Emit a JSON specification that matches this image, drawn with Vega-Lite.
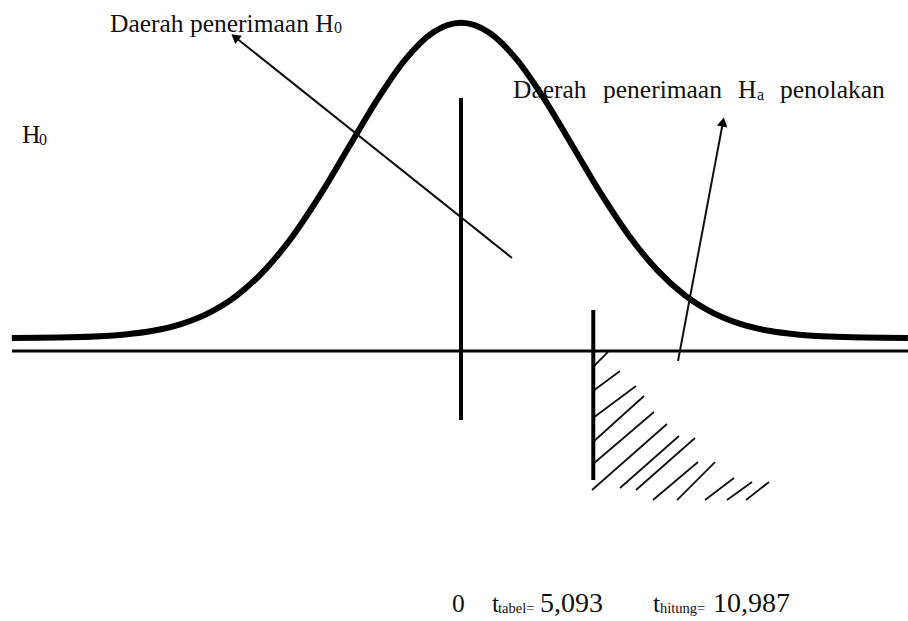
{
  "$schema": "https://vega.github.io/schema/vega-lite/v6.json",
  "width": 908,
  "height": 621,
  "autosize": {"type": "none"},
  "padding": 0,
  "background": "white",
  "config": {"view": {"stroke": null}, "text": {"font": "Liberation Serif", "baseline": "alphabetic", "align": "left", "color": "#111"}},
  "datasets": {
    "curve": [
      {"z": -4.01, "density": 0.00013},
      {"z": -3.5, "density": 0.000873},
      {"z": -3.0, "density": 0.004432},
      {"z": -2.75, "density": 0.009094},
      {"z": -2.5, "density": 0.017528},
      {"z": -2.25, "density": 0.03174},
      {"z": -2.0, "density": 0.053991},
      {"z": -1.75, "density": 0.086277},
      {"z": -1.5, "density": 0.129518},
      {"z": -1.25, "density": 0.182649},
      {"z": -1.0, "density": 0.241971},
      {"z": -0.75, "density": 0.301137},
      {"z": -0.5, "density": 0.352065},
      {"z": -0.25, "density": 0.386668},
      {"z": 0.0, "density": 0.398942},
      {"z": 0.25, "density": 0.386668},
      {"z": 0.5, "density": 0.352065},
      {"z": 0.75, "density": 0.301137},
      {"z": 1.0, "density": 0.241971},
      {"z": 1.25, "density": 0.182649},
      {"z": 1.5, "density": 0.129518},
      {"z": 1.75, "density": 0.086277},
      {"z": 2.0, "density": 0.053991},
      {"z": 2.25, "density": 0.03174},
      {"z": 2.5, "density": 0.017528},
      {"z": 2.75, "density": 0.009094},
      {"z": 3.0, "density": 0.004432},
      {"z": 3.5, "density": 0.000873},
      {"z": 3.99, "density": 0.00014}
    ],
    "baseline": [{"x1": -4.009, "x2": 3.991, "y": -0.01646}],
    "verticals": [
      {"name": "0", "x": 0.0, "y1": 0.3038, "y2": -0.1038},
      {"name": "t_tabel", "x": 1.181, "y1": 0.03544, "y2": -0.1797}
    ],
    "arrows": [
      {"name": "H0", "x1": 0.4554, "y1": 0.1013, "x2": -2.018, "y2": 0.381},
      {"name": "Ha", "x1": 1.9375, "y1": -0.02911, "x2": 2.339, "y2": 0.2734}
    ],
    "hatch": [
      {"x1": 1.1786, "y1": -0.0367, "x2": 1.3125, "y2": -0.0177},
      {"x1": 1.1786, "y1": -0.0671, "x2": 1.4196, "y2": -0.0418},
      {"x1": 1.1786, "y1": -0.1013, "x2": 1.5625, "y2": -0.0608},
      {"x1": 1.1786, "y1": -0.1316, "x2": 1.6339, "y2": -0.0734},
      {"x1": 1.1786, "y1": -0.1595, "x2": 1.7232, "y2": -0.0937},
      {"x1": 1.1696, "y1": -0.1924, "x2": 1.8393, "y2": -0.1089},
      {"x1": 1.4196, "y1": -0.1899, "x2": 1.9464, "y2": -0.1241},
      {"x1": 1.5625, "y1": -0.1924, "x2": 2.0893, "y2": -0.1266},
      {"x1": 1.7143, "y1": -0.2051, "x2": 2.1161, "y2": -0.157},
      {"x1": 1.9286, "y1": -0.2051, "x2": 2.2679, "y2": -0.157},
      {"x1": 2.1786, "y1": -0.2051, "x2": 2.4375, "y2": -0.1772},
      {"x1": 2.375, "y1": -0.2051, "x2": 2.5982, "y2": -0.1823},
      {"x1": 2.5446, "y1": -0.2051, "x2": 2.75, "y2": -0.1823}
    ],
    "labels": [
      {"x": -3.1339, "y": 0.3873, "text": "Daerah penerimaan H"},
      {"x": -3.9196, "y": 0.2468, "text": "H"},
      {"x": 0.4643, "y": 0.3038, "text": "Daerah"},
      {"x": 1.2679, "y": 0.3038, "text": "penerimaan"},
      {"x": 2.4732, "y": 0.3038, "text": "H"},
      {"x": 2.8482, "y": 0.3038, "text": "penolakan"},
      {"x": -0.0804, "y": -0.3468, "text": "0"},
      {"x": 0.2768, "y": -0.3468, "text": "t"},
      {"x": 1.7143, "y": -0.3468, "text": "t"}
    ],
    "numbers": [
      {"x": 0.7054, "y": -0.3468, "text": "5,093"},
      {"x": 2.25, "y": -0.3468, "text": "10,987"}
    ],
    "subs": [
      {"x": -1.1339, "y": 0.3861, "text": "0"},
      {"x": -3.7679, "y": 0.2443, "text": "0"},
      {"x": 2.6429, "y": 0.3013, "text": "a"}
    ],
    "smallsubs": [
      {"x": 0.3304, "y": -0.3481, "text": "tabel="},
      {"x": 1.7768, "y": -0.3481, "text": "hitung="}
    ]
  },
  "layer": [
    {
      "data": {"name": "hatch"},
      "mark": {"type": "rule", "strokeWidth": 1.8, "color": "#111"},
      "encoding": {
        "x": {"field": "x1", "type": "quantitative", "scale": {"domain": [-4.116, 3.991], "nice": false, "zero": false}, "axis": null},
        "y": {"field": "y1", "type": "quantitative", "scale": {"domain": [-0.3582, 0.4278], "nice": false, "zero": false}, "axis": null},
        "x2": {"field": "x2"},
        "y2": {"field": "y2"}
      }
    },
    {
      "data": {"name": "curve"},
      "mark": {"type": "line", "strokeWidth": 6, "color": "#000", "interpolate": "monotone"},
      "encoding": {
        "x": {"field": "z", "type": "quantitative", "scale": {"domain": [-4.116, 3.991], "nice": false, "zero": false}, "axis": null},
        "y": {"field": "density", "type": "quantitative", "scale": {"domain": [-0.3582, 0.4278], "nice": false, "zero": false}, "axis": null}
      }
    },
    {
      "data": {"name": "baseline"},
      "mark": {"type": "rule", "strokeWidth": 3, "color": "#000"},
      "encoding": {
        "x": {"field": "x1", "type": "quantitative", "scale": {"domain": [-4.116, 3.991], "nice": false, "zero": false}, "axis": null},
        "x2": {"field": "x2"},
        "y": {"field": "y", "type": "quantitative", "scale": {"domain": [-0.3582, 0.4278], "nice": false, "zero": false}, "axis": null}
      }
    },
    {
      "data": {"name": "verticals"},
      "mark": {"type": "rule", "strokeWidth": 4, "color": "#000"},
      "encoding": {
        "x": {"field": "x", "type": "quantitative", "scale": {"domain": [-4.116, 3.991], "nice": false, "zero": false}, "axis": null},
        "y": {"field": "y1", "type": "quantitative", "scale": {"domain": [-0.3582, 0.4278], "nice": false, "zero": false}, "axis": null},
        "y2": {"field": "y2"}
      }
    },
    {
      "data": {"name": "arrows"},
      "mark": {"type": "rule", "strokeWidth": 2, "color": "#111"},
      "encoding": {
        "x": {"field": "x1", "type": "quantitative", "scale": {"domain": [-4.116, 3.991], "nice": false, "zero": false}, "axis": null},
        "y": {"field": "y1", "type": "quantitative", "scale": {"domain": [-0.3582, 0.4278], "nice": false, "zero": false}, "axis": null},
        "x2": {"field": "x2"},
        "y2": {"field": "y2"}
      }
    },
    {
      "data": {"name": "arrows"},
      "transform": [{"filter": "datum.name === 'H0'"}],
      "mark": {"type": "point", "shape": "triangle-up", "filled": true, "opacity": 1, "color": "#000", "size": 110, "angle": 308.6},
      "encoding": {
        "x": {"field": "x2", "type": "quantitative", "scale": {"domain": [-4.116, 3.991], "nice": false, "zero": false}, "axis": null},
        "y": {"field": "y2", "type": "quantitative", "scale": {"domain": [-0.3582, 0.4278], "nice": false, "zero": false}, "axis": null}
      }
    },
    {
      "data": {"name": "arrows"},
      "transform": [{"filter": "datum.name === 'Ha'"}],
      "mark": {"type": "point", "shape": "triangle-up", "filled": true, "opacity": 1, "color": "#000", "size": 110, "angle": 10.7},
      "encoding": {
        "x": {"field": "x2", "type": "quantitative", "scale": {"domain": [-4.116, 3.991], "nice": false, "zero": false}, "axis": null},
        "y": {"field": "y2", "type": "quantitative", "scale": {"domain": [-0.3582, 0.4278], "nice": false, "zero": false}, "axis": null}
      }
    },
    {
      "data": {"name": "labels"},
      "mark": {"type": "text", "fontSize": 25.5},
      "encoding": {
        "x": {"field": "x", "type": "quantitative", "scale": {"domain": [-4.116, 3.991], "nice": false, "zero": false}, "axis": null},
        "y": {"field": "y", "type": "quantitative", "scale": {"domain": [-0.3582, 0.4278], "nice": false, "zero": false}, "axis": null},
        "text": {"field": "text"}
      }
    },
    {
      "data": {"name": "numbers"},
      "mark": {"type": "text", "fontSize": 28},
      "encoding": {
        "x": {"field": "x", "type": "quantitative", "scale": {"domain": [-4.116, 3.991], "nice": false, "zero": false}, "axis": null},
        "y": {"field": "y", "type": "quantitative", "scale": {"domain": [-0.3582, 0.4278], "nice": false, "zero": false}, "axis": null},
        "text": {"field": "text"}
      }
    },
    {
      "data": {"name": "subs"},
      "mark": {"type": "text", "fontSize": 16},
      "encoding": {
        "x": {"field": "x", "type": "quantitative", "scale": {"domain": [-4.116, 3.991], "nice": false, "zero": false}, "axis": null},
        "y": {"field": "y", "type": "quantitative", "scale": {"domain": [-0.3582, 0.4278], "nice": false, "zero": false}, "axis": null},
        "text": {"field": "text"}
      }
    },
    {
      "data": {"name": "smallsubs"},
      "mark": {"type": "text", "fontSize": 14.5},
      "encoding": {
        "x": {"field": "x", "type": "quantitative", "scale": {"domain": [-4.116, 3.991], "nice": false, "zero": false}, "axis": null},
        "y": {"field": "y", "type": "quantitative", "scale": {"domain": [-0.3582, 0.4278], "nice": false, "zero": false}, "axis": null},
        "text": {"field": "text"}
      }
    }
  ]
}
